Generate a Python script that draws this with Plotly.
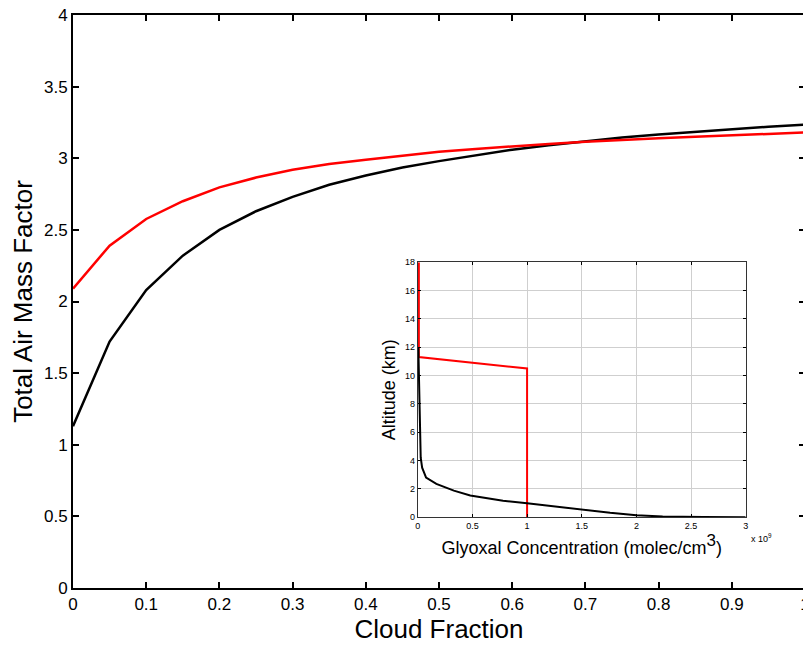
import plotly.graph_objects as go

# Main panel data
cloud_fraction = [0.0, 0.05, 0.1, 0.15, 0.2, 0.25, 0.3, 0.35, 0.4, 0.45, 0.5,
                  0.55, 0.6, 0.65, 0.7, 0.75, 0.8, 0.85, 0.9, 0.95, 1.0]
amf_black = [1.13, 1.72, 2.08, 2.32, 2.50, 2.63, 2.73, 2.815, 2.88, 2.935, 2.98,
             3.02, 3.06, 3.09, 3.12, 3.145, 3.165, 3.185, 3.205, 3.22, 3.235]
amf_red = [2.09, 2.39, 2.576, 2.70, 2.797, 2.865, 2.92, 2.96, 2.99, 3.02, 3.045,
           3.065, 3.085, 3.10, 3.115, 3.13, 3.14, 3.15, 3.16, 3.17, 3.18]

# Inset data (concentration in units of 1e9 molec/cm3, altitude km)
red_conc = [0.01, 0.01, 1.0, 1.0]
red_alt = [18.0, 11.3, 10.5, 0.0]
black_conc = [0.005, 0.008, 0.012, 0.02, 0.027, 0.04, 0.076, 0.17, 0.33, 0.48,
              0.78, 1.0, 1.27, 1.51, 1.76, 2.0, 2.24, 2.61, 3.0]
black_alt = [12.0, 11.0, 8.7, 5.9, 4.2, 3.5, 2.8, 2.35, 1.88, 1.53,
             1.17, 0.99, 0.75, 0.52, 0.31, 0.14, 0.05, 0.01, 0.0]

main_xticks = [0, 0.1, 0.2, 0.3, 0.4, 0.5, 0.6, 0.7, 0.8, 0.9, 1]
main_xticklabels = ["0", "0.1", "0.2", "0.3", "0.4", "0.5", "0.6", "0.7", "0.8", "0.9", "1"]
main_yticks = [0, 0.5, 1, 1.5, 2, 2.5, 3, 3.5, 4]
main_yticklabels = ["0", "0.5", "1", "1.5", "2", "2.5", "3", "3.5", "4"]
inset_xticks = [0, 0.5, 1, 1.5, 2, 2.5, 3]
inset_xticklabels = ["0", "0.5", "1", "1.5", "2", "2.5", "3"]
inset_yticks = [0, 2, 4, 6, 8, 10, 12, 14, 16, 18]

FONT = "Arial, Liberation Sans, sans-serif"

fig = go.Figure()
fig.add_trace(go.Scatter(x=cloud_fraction, y=amf_black, mode="lines",
                         line=dict(color="black", width=2.5), xaxis="x", yaxis="y"))
fig.add_trace(go.Scatter(x=cloud_fraction, y=amf_red, mode="lines",
                         line=dict(color="#ff0000", width=2.5), xaxis="x", yaxis="y"))
fig.add_trace(go.Scatter(x=red_conc, y=red_alt, mode="lines",
                         line=dict(color="#ff0000", width=2), xaxis="x2", yaxis="y2"))
fig.add_trace(go.Scatter(x=black_conc, y=black_alt, mode="lines",
                         line=dict(color="black", width=2), xaxis="x2", yaxis="y2"))

# the page body adds an 8 px offset; the figure is sized to fit the window
fig.update_layout(
    width=803, height=640,
    margin=dict(l=65, r=6, t=7, b=60),
    paper_bgcolor="white", plot_bgcolor="white",
    showlegend=False,
    font=dict(family=FONT, color="black"),
    xaxis=dict(domain=[0, 1], range=[0, 1], tickvals=main_xticks, ticktext=main_xticklabels,
               ticks="inside", ticklen=6, tickwidth=2, tickcolor="black",
               showline=True, linewidth=2, linecolor="black", mirror="ticks",
               showgrid=False, zeroline=False, tickfont=dict(size=17), automargin=False,
               ticklabeloverflow="allow",
               title=dict(text="Cloud Fraction", font=dict(size=26), standoff=4)),
    yaxis=dict(domain=[0, 1], range=[0, 4], tickvals=main_yticks, ticktext=main_yticklabels,
               ticks="inside", ticklen=6, tickwidth=2, tickcolor="black",
               showline=True, linewidth=2, linecolor="black", mirror="ticks",
               showgrid=False, zeroline=False, tickfont=dict(size=17), automargin=False,
               ticklabeloverflow="allow",
               title=dict(text="Total Air Mass Factor", font=dict(size=26), standoff=6)),
    xaxis2=dict(domain=[0.471, 0.919], anchor="y2", range=[0, 3],
                tickvals=inset_xticks, ticktext=inset_xticklabels,
                ticks="inside", ticklen=3, tickwidth=1, tickcolor="black",
                showline=True, linewidth=1, linecolor="#333333", mirror="ticks",
                showgrid=True, gridcolor="#cfcfcf", gridwidth=1, zeroline=False,
                tickfont=dict(size=9), automargin=False, ticklabeloverflow="allow",
                title=dict(text="Glyoxal Concentration (molec/cm<sup><span style='font-size:17px'>3</span></sup>)",
                           font=dict(size=18), standoff=2)),
    yaxis2=dict(domain=[0.1235, 0.5687], anchor="x2", range=[0, 18],
                tickvals=inset_yticks,
                ticks="inside", ticklen=3, tickwidth=1, tickcolor="black",
                showline=True, linewidth=1, linecolor="#333333", mirror="ticks",
                showgrid=True, gridcolor="#cfcfcf", gridwidth=1, zeroline=False,
                tickfont=dict(size=9), automargin=False, ticklabeloverflow="allow",
                title=dict(text="Altitude (km)", font=dict(size=18), standoff=4)),
    annotations=[dict(text="x 10<sup>9</sup>", xref="paper", yref="paper",
                      x=0.941, y=0.087, showarrow=False, font=dict(size=9),
                      xanchor="center", yanchor="middle")],
)

fig.write_html("out.html")
